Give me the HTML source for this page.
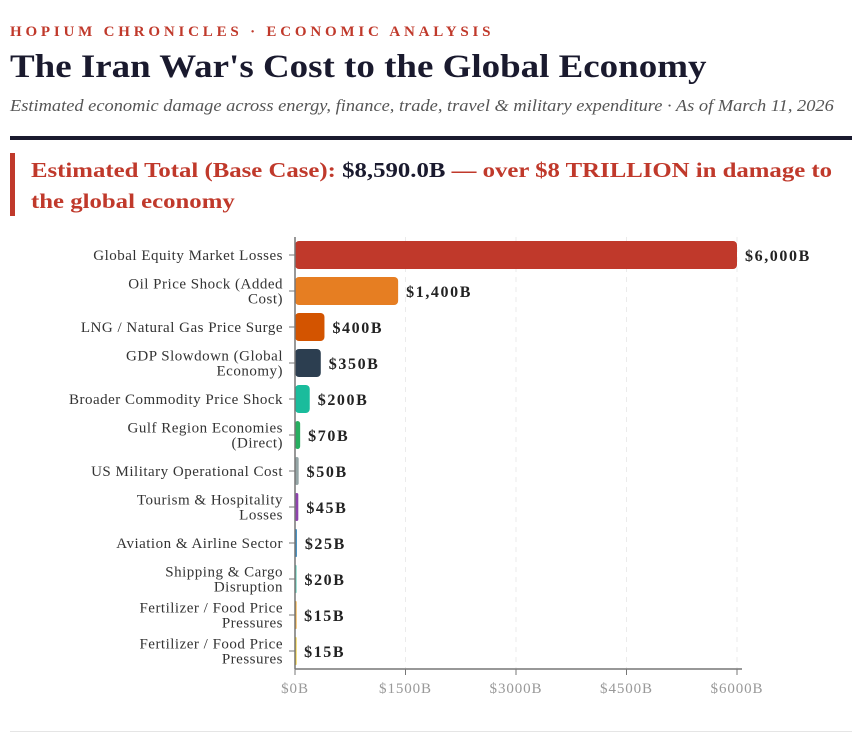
<!DOCTYPE html>
<html><head><meta charset="utf-8"><style>
body{margin:0;background:#fff;width:852px;height:736px;overflow:hidden;font-family:"Liberation Serif",serif;position:relative}
.kick{position:absolute;left:10px;top:24px;color:#c0392b;font-weight:bold;font-size:15px;letter-spacing:3.8px;white-space:nowrap}
h1{position:absolute;left:10px;top:49px;margin:0;font-size:33px;color:#1a1a2e;font-weight:bold;white-space:nowrap;transform:scaleX(1.12);transform-origin:left top}
.sub{position:absolute;left:10px;top:96px;font-style:italic;font-size:16.5px;color:#555;white-space:nowrap;transform:scaleX(1.115);transform-origin:left top}
.rule{position:absolute;left:10px;top:136px;width:842px;height:4px;background:#1a1a2e}
.call{position:absolute;left:10px;top:153px;width:820px;height:63px;border-left:5px solid #c0392b;box-sizing:border-box}
.callt{position:absolute;left:31px;top:155px;color:#c0392b;font-weight:bold;font-size:21px;line-height:31px;white-space:nowrap;transform:scaleX(1.18);transform-origin:left top}
.callt b{color:#1a1a2e}
.foot{position:absolute;left:10px;top:731px;width:842px;height:1px;background:#e5e5e5}
svg{position:absolute;left:0;top:0}
</style></head><body>
<div class="kick">HOPIUM CHRONICLES · ECONOMIC ANALYSIS</div>
<h1>The Iran War's Cost to the Global Economy</h1>
<div class="sub">Estimated economic damage across energy, finance, trade, travel &amp; military expenditure · As of March 11, 2026</div>
<div class="rule"></div>
<div class="call"></div>
<div class="callt">Estimated Total (Base Case): <b>$8,590.0B</b> — over $8 TRILLION in damage to<br>the global economy</div>
<svg id="chart" width="852" height="736"></svg>
<div class="foot"></div>
<script>
const categories=[["Global Equity Market Losses"],["Oil Price Shock (Added","Cost)"],["LNG / Natural Gas Price Surge"],["GDP Slowdown (Global","Economy)"],["Broader Commodity Price Shock"],["Gulf Region Economies","(Direct)"],["US Military Operational Cost"],["Tourism & Hospitality","Losses"],["Aviation & Airline Sector"],["Shipping & Cargo","Disruption"],["Fertilizer / Food Price","Pressures"],["Fertilizer / Food Price","Pressures"]];
const values=[6000,1400,400,350,200,70,50,45,25,20,15,15];
const valueLabels=["$6,000B","$1,400B","$400B","$350B","$200B","$70B","$50B","$45B","$25B","$20B","$15B","$15B"];
const colors=["#c0392b","#e67e22","#d35400","#2c3e50","#1abc9c","#27ae60","#95a5a6","#8e44ad","#2980b9","#48c9b0","#f39c12","#f1c40f"];
const ticks=[0,1500,3000,4500,6000];
const tickLabels=["$0B","$1500B","$3000B","$4500B","$6000B"];
const NS="http://www.w3.org/2000/svg",svg=document.getElementById('chart');
const x0=295,x1=737,plotTop=237,step=36,bh=28,axisY=669;
const xs=v=>x0+(v/6000)*(x1-x0);
const yc=i=>plotTop+step*i+step/2;
function mk(t,a){const e=document.createElementNS(NS,t);for(const k in a)e.setAttribute(k,a[k]);svg.appendChild(e);return e;}
ticks.forEach((t,i)=>{
 if(i>0){const g=mk('line',{x1:xs(t),x2:xs(t),y1:plotTop,y2:axisY,stroke:'#ebebeb','stroke-dasharray':'5,5'});
 
 }
 const tk=mk('line',{x1:xs(t),x2:xs(t),y1:axisY,y2:axisY+6,stroke:'#777'});
 
 
 const l=mk('text',{x:xs(t),y:axisY+24,'text-anchor':'middle','font-size':15,'letter-spacing':0.9,fill:'#999','font-family':'Liberation Serif'});
 l.textContent=tickLabels[i];
 
 
});
values.forEach((v,i)=>{
 const c=yc(i);
 const w=Math.max(xs(v)-x0,1.5);
 const r=mk('rect',{x:x0,y:c-bh/2,width:w,height:bh,rx:Math.min(4,w/2),fill:colors[i]});
 
 
 const vl=mk('text',{x:xs(v)+8,y:c+6,'font-size':16,'letter-spacing':1.6,'font-weight':'bold',fill:'#222','font-family':'Liberation Serif'});
 vl.textContent=valueLabels[i];
 
 
 const tk=mk('line',{x1:x0-6,x2:x0,y1:c,y2:c,stroke:'#777'});
 
 
 const lines=categories[i];
 lines.forEach((s,j)=>{
  const t=mk('text',{x:x0-12,y:c+5+(j-(lines.length-1)/2)*15,'text-anchor':'end','font-size':15,'letter-spacing':0.5,fill:'#333','font-family':'Liberation Serif'});
  t.textContent=s;
  
  
 });
});
const ya=mk('line',{x1:x0,x2:x0,y1:plotTop,y2:axisY,stroke:'#777','stroke-width':1.5});


const xa=mk('line',{x1:x0,x2:x1+5,y1:axisY,y2:axisY,stroke:'#777','stroke-width':1.5});


</script>
</body></html>
